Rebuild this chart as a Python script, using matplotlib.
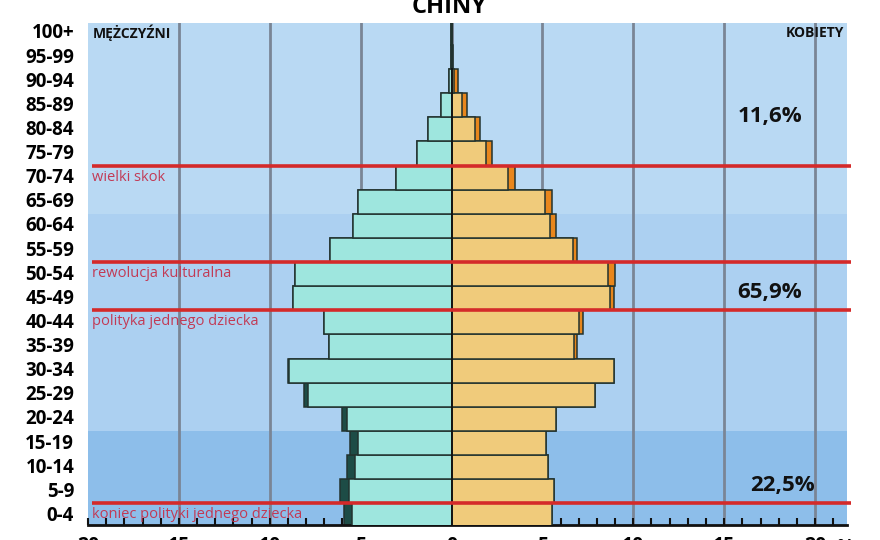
import matplotlib
matplotlib.use("Agg")
import matplotlib.pyplot as plt
import numpy as np

plt.rcParams['font.family'] = ['Open Sans', 'DejaVu Sans']

# ---- data ----
age_groups = ["0-4", "5-9", "10-14", "15-19", "20-24", "25-29", "30-34", "35-39",
              "40-44", "45-49", "50-54", "55-59", "60-64", "65-69", "70-74",
              "75-79", "80-84", "85-89", "90-94", "95-99", "100+"]
male = [5.91, 6.11, 5.76, 5.56, 6.04, 8.13, 9.00, 6.75, 7.00, 8.72, 8.60,
        6.66, 5.43, 5.14, 3.08, 1.91, 1.28, 0.60, 0.15, 0.03, 0.01]
female = [5.50, 5.65, 5.32, 5.17, 5.74, 7.87, 8.95, 6.90, 7.25, 8.95, 8.99,
          6.90, 5.72, 5.50, 3.47, 2.24, 1.58, 0.84, 0.33, 0.10, 0.03]
band_edges = [-0.5, 3.5, 12.5, 20.5]
band_labels = ["22,5%", "65,9%", "11,6%"]
events = ["koniec polityki jednego dziecka", "polityka jednego dziecka",
          "rewolucja kulturalna", "wielki skok"]
event_pos = [0.5, 8.5, 10.5, 14.5]
xticks = [-20, -15, -10, -5, 0, 5, 10, 15, 20]
xticklabels = ["20", "15", "10", "5", "0", "5", "10", "15", "20"]

# ---- styles ----
c_m_light = "#9ee6de"
c_m_dark = "#1d4c46"
c_f_light = "#f0cb7b"
c_f_dark = "#e8861c"
band_colors = ["#8dbeea", "#acd0f1", "#b9d9f3"]
edge = "#22332f"

fig = plt.figure(figsize=(8.8, 5.4), dpi=100)
ax = fig.add_axes([88/880, 1-525/540, (846.7-88)/880, (525-22.7)/540])
ax.set_xlim(-20, 21.74)
ax.set_ylim(-0.4, 20.42)

for (y0, y1), col in zip(zip(band_edges[:-1], band_edges[1:]), band_colors):
    ax.axhspan(y0, y1, color=col, zorder=0, lw=0)

for x in range(-15, 25, 5):
    ax.axvline(x, color="#7a8595", lw=2, zorder=1)
ax.axvline(0, color="#7a8595", lw=2, zorder=1)

y = np.arange(len(age_groups))
m = np.array(male)
f = np.array(female)
common = np.minimum(m, f)

# male side
ax.barh(y, -m, height=1.0, color=c_m_dark, edgecolor=edge, lw=1.1, zorder=2)
ax.barh(y, -common, height=1.0, color=c_m_light, edgecolor=edge, lw=1.1, zorder=3)
# female side
ax.barh(y, f, height=1.0, color=c_f_dark, edgecolor=edge, lw=1.1, zorder=2)
ax.barh(y, common, height=1.0, color=c_f_light, edgecolor=edge, lw=1.1, zorder=3)
ax.plot([0, 0], [-0.5, 18.5], color="#111111", lw=1.3, zorder=4)

for ev, yp in zip(events, event_pos):
    ax.plot([-19.8, 21.95], [yp, yp], color="#d42a2a", lw=2.6, zorder=5,
            clip_on=False, solid_capstyle="butt")
    ax.text(-19.8, yp - 0.17, ev, color="#c23a55", fontsize=10.5,
            ha="left", va="top", zorder=6)

ax.text(18.2, 1.25, band_labels[0], fontsize=16, fontweight="bold",
        color="#111111", ha="center", va="center", zorder=6)
ax.text(17.5, 9.25, band_labels[1], fontsize=16, fontweight="bold",
        color="#111111", ha="center", va="center", zorder=6)
ax.text(17.5, 16.55, band_labels[2], fontsize=16, fontweight="bold",
        color="#111111", ha="center", va="center", zorder=6)

ax.text(-19.75, 20.0, "MĘŻCZYŹNI", fontsize=10, fontweight="bold",
        color="#111111", ha="left", va="center", zorder=6)
ax.text(21.6, 20.0, "KOBIETY", fontsize=10, fontweight="bold",
        color="#111111", ha="right", va="center", zorder=6)

ax.set_yticks(y + 0.08)
ax.set_yticklabels(age_groups, fontsize=13.5, fontweight="bold")
ax.tick_params(axis="y", length=0, pad=10)

ax.set_xticks(xticks)
ax.set_xticklabels(xticklabels, fontsize=14, fontweight="bold")
ax.set_xticks(np.arange(-20, 22, 1), minor=True)
ax.tick_params(axis="x", which="both", direction="in", length=5, width=1.5,
               color="#111111", pad=8)

for s in ["left", "right", "top"]:
    ax.spines[s].set_visible(False)
ax.spines["bottom"].set_linewidth(2)
ax.spines["bottom"].set_color("#111111")

fig.text(845/880, 1-548/540, "%", fontsize=14, fontweight="bold",
         ha="center", va="center")
fig.text(449/880, 1-13/540, "CHINY", fontsize=17, fontweight="bold",
         ha="center", va="baseline")

fig.savefig("out.png", dpi=100)
